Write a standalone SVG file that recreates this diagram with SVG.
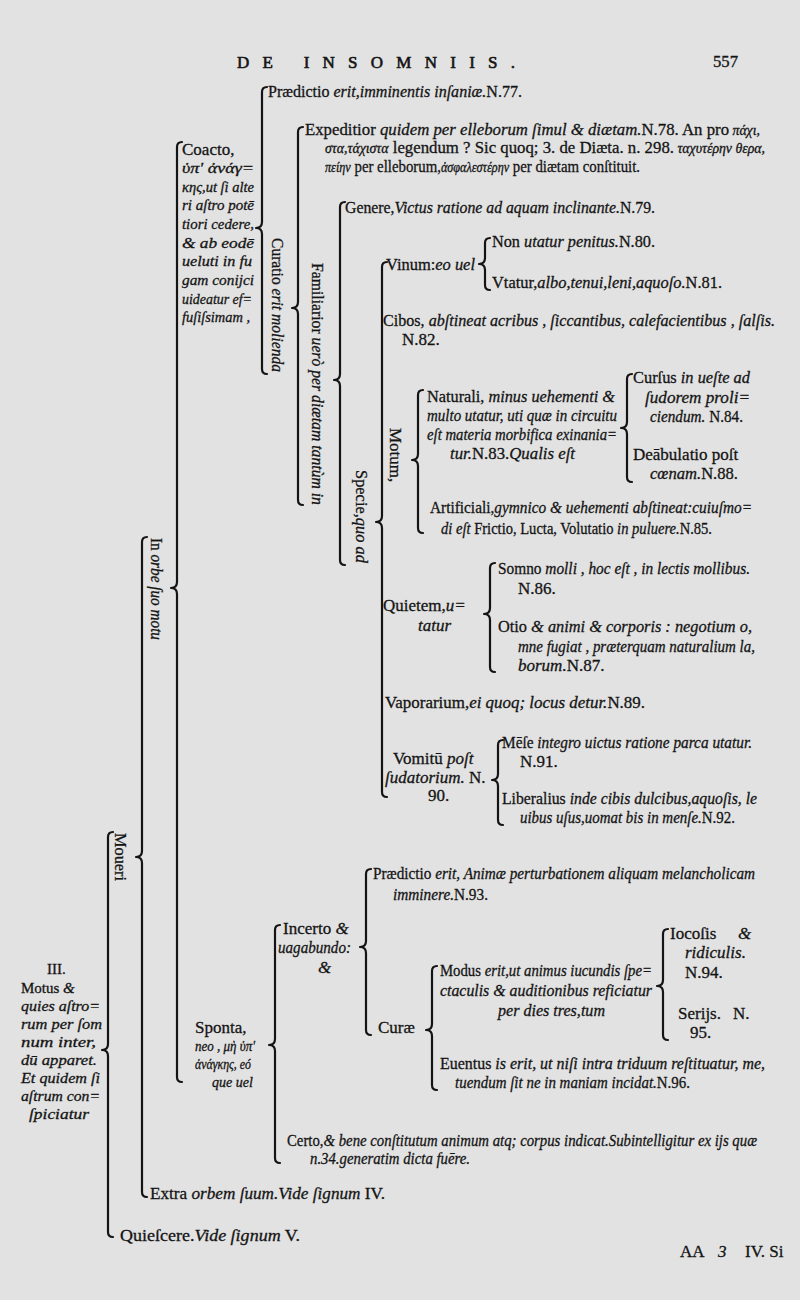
<svg xmlns="http://www.w3.org/2000/svg" width="800" height="1300" viewBox="0 0 800 1300">
<style>
text{font-family:"Liberation Serif","Times New Roman",serif;font-size:17px;fill:#141414;stroke:#141414;stroke-width:0.3px}
.i{font-style:italic}
.s{font-size:15px}
.g{font-size:14px}
.b{fill:none;stroke:#141414;stroke-width:2.2;stroke-linecap:round;stroke-linejoin:round}
</style>
<rect width="800" height="1300" fill="#e2e2e2"/>
<g id="header">
<text x="237" y="68" font-size="22" textLength="278" lengthAdjust="spacing" style="stroke-width:0.6px">DE INSOMNIIS.</text>
<text x="713" y="67" font-size="16" textLength="25" lengthAdjust="spacingAndGlyphs">557</text>
</g>
<g id="connectors">
<path class="b" d="M113,832 Q108,832 108,837 V1044 Q108,1050 102,1050 Q108,1050 108,1056 V1232 Q108,1237 113,1237"/>
<path class="b" d="M147,537 Q142,537 142,542 V851 Q142,857 136,857 Q142,857 142,863 V1192 Q142,1197 147,1197"/>
<path class="b" d="M182,142 Q177,142 177,147 V582 Q177,588 171,588 Q177,588 177,594 V1077 Q177,1082 182,1082"/>
<path class="b" d="M267,87 Q262,87 262,92 V222 Q262,228 256,228 Q262,228 262,234 V369 Q262,374 267,374"/>
<path class="b" d="M303,127 Q298,127 298,132 V302 Q298,308 292,308 Q298,308 298,314 V500 Q298,505 303,505"/>
<path class="b" d="M345,202 Q340,202 340,207 V374 Q340,380 334,380 Q340,380 340,386 V560 Q340,565 345,565"/>
<path class="b" d="M387,262 Q382,262 382,267 V516 Q382,522 376,522 Q382,522 382,528 V792 Q382,797 387,797"/>
<path class="b" d="M490,238 Q485,238 485,243 V258 Q485,264 479,264 Q485,264 485,270 V285 Q485,290 490,290"/>
<path class="b" d="M423,390 Q418,390 418,395 V454 Q418,460 412,460 Q418,460 418,466 V528 Q418,533 423,533"/>
<path class="b" d="M632,374 Q627,374 627,379 V422 Q627,428 621,428 Q627,428 627,434 V477 Q627,482 632,482"/>
<path class="b" d="M495,563 Q490,563 490,568 V608 Q490,614 484,614 Q490,614 490,620 V667 Q490,672 495,672"/>
<path class="b" d="M503,740 Q498,740 498,745 V774 Q498,780 492,780 Q498,780 498,786 V820 Q498,825 503,825"/>
<path class="b" d="M280,925 Q275,925 275,930 V1039 Q275,1045 269,1045 Q275,1045 275,1051 V1158 Q275,1163 280,1163"/>
<path class="b" d="M371,869 Q366,869 366,874 V941 Q366,947 360,947 Q366,947 366,953 V1030 Q366,1035 371,1035"/>
<path class="b" d="M437,966 Q432,966 432,971 V1024 Q432,1030 426,1030 Q432,1030 432,1036 V1085 Q432,1090 437,1090"/>
<path class="b" d="M668,929 Q663,929 663,934 V980 Q663,986 657,986 Q663,986 663,992 V1035 Q663,1040 668,1040"/>
</g>
<g id="n-iii">
<text x="47" y="974" class="s">III.</text>
<text x="21" y="993" class="s">Motus<tspan class="i"> &amp;</tspan></text>
<text x="21" y="1011" class="i s" textLength="79" lengthAdjust="spacingAndGlyphs">quies aſtro=</text>
<text x="21" y="1029" class="i s" textLength="81" lengthAdjust="spacingAndGlyphs">rum per ſom</text>
<text x="21" y="1047" class="i s" textLength="75" lengthAdjust="spacingAndGlyphs">num inter,</text>
<text x="21" y="1065" class="i s" textLength="76" lengthAdjust="spacingAndGlyphs">dū apparet.</text>
<text x="21" y="1083" class="i s" textLength="79" lengthAdjust="spacingAndGlyphs">Et quidem ſi</text>
<text x="21" y="1101" class="i s" textLength="79" lengthAdjust="spacingAndGlyphs">aſtrum con=</text>
<text x="29" y="1119" class="i s" textLength="60" lengthAdjust="spacingAndGlyphs">ſpiciatur</text>
</g>
<g id="n-moueri"><text transform="translate(115,833) rotate(90)" textLength="48" lengthAdjust="spacingAndGlyphs">Moueri</text></g>
<g id="n-quiescere"><text x="120" y="1241" textLength="180" lengthAdjust="spacingAndGlyphs">Quieſcere.<tspan class="i">Vide ſignum</tspan>  V.</text></g>
<g id="n-inorbe"><text transform="translate(151,538) rotate(90)" textLength="102" lengthAdjust="spacingAndGlyphs">In<tspan class="i"> orbe ſuo motu</tspan></text></g>
<g id="n-extra"><text x="150" y="1199" textLength="235" lengthAdjust="spacingAndGlyphs">Extra<tspan class="i"> orbem ſuum.Vide ſignum</tspan>  IV.</text></g>
<g id="n-coacto">
<text x="182" y="155">Coacto,</text>
<text x="182" y="173" class="i s" textLength="72" lengthAdjust="spacingAndGlyphs">ὑπ'  ἀνάγ=</text>
<text x="182" y="192" class="i s" textLength="72" lengthAdjust="spacingAndGlyphs">κης,ut ſi alte</text>
<text x="182" y="210" class="i s" textLength="72" lengthAdjust="spacingAndGlyphs">ri aſtro potē</text>
<text x="182" y="229" class="i s" textLength="72" lengthAdjust="spacingAndGlyphs">tiori cedere,</text>
<text x="182" y="248" class="i s" textLength="72" lengthAdjust="spacingAndGlyphs">&amp; ab eodē</text>
<text x="182" y="266" class="i s" textLength="70" lengthAdjust="spacingAndGlyphs">ueluti in fu</text>
<text x="182" y="285" class="i s" textLength="72" lengthAdjust="spacingAndGlyphs">gam conijci</text>
<text x="182" y="304" class="i s" textLength="70" lengthAdjust="spacingAndGlyphs">uideatur ef=</text>
<text x="182" y="322" class="i s" textLength="68" lengthAdjust="spacingAndGlyphs">fuſiſsimam ,</text>
</g>
<g id="n-praedictio1"><text x="268" y="97" textLength="254" lengthAdjust="spacingAndGlyphs">Prædictio<tspan class="i"> erit,imminentis inſaniæ.</tspan>N.77.</text></g>
<g id="n-curatio"><text transform="translate(272,238) rotate(90)" textLength="134" lengthAdjust="spacingAndGlyphs">Curatio<tspan class="i"> erit molienda</tspan></text></g>
<g id="n-expeditior">
<text x="305" y="135" textLength="455" lengthAdjust="spacingAndGlyphs">Expeditior<tspan class="i"> quidem per elleborum ſimul &amp; diætam.</tspan>N.78. An pro<tspan class="i g"> πάχι,</tspan></text>
<text x="325" y="153" textLength="440" lengthAdjust="spacingAndGlyphs"><tspan class="i g">στα,τάχιστα</tspan> legendum ? Sic quoq; 3. de Diæta. n. 298.<tspan class="i g"> ταχυτέρην θερα,</tspan></text>
<text x="325" y="172" textLength="315" lengthAdjust="spacingAndGlyphs"><tspan class="i g">πείην</tspan> per elleborum,<tspan class="i g">ἀσφαλεστέρην</tspan> per diætam conſtituit.</text>
</g>
<g id="n-familiarior"><text transform="translate(312,263) rotate(90)" textLength="242" lengthAdjust="spacingAndGlyphs">Familiarior<tspan class="i"> uerò per diætam tantùm in</tspan></text></g>
<g id="n-genere"><text x="345" y="213" textLength="310" lengthAdjust="spacingAndGlyphs">Genere,<tspan class="i">Victus ratione ad aquam inclinante.</tspan>N.79.</text></g>
<g id="n-specie"><text transform="translate(356,470) rotate(90)" textLength="93" lengthAdjust="spacingAndGlyphs">Specie,<tspan class="i">quo ad</tspan></text></g>
<g id="n-vinum"><text x="386" y="270" textLength="89" lengthAdjust="spacingAndGlyphs">Vinum:<tspan class="i">eo uel</tspan></text></g>
<g id="n-non"><text x="492" y="247" textLength="163" lengthAdjust="spacingAndGlyphs">Non<tspan class="i"> utatur penitus.</tspan>N.80.</text></g>
<g id="n-vtatur"><text x="492" y="288" textLength="230" lengthAdjust="spacingAndGlyphs">Vtatur,<tspan class="i">albo,tenui,leni,aquoſo.</tspan>N.81.</text></g>
<g id="n-cibos">
<text x="383" y="326" textLength="392" lengthAdjust="spacingAndGlyphs">Cibos,<tspan class="i"> abſtineat acribus , ſiccantibus, calefacientibus , ſalſis.</tspan></text>
<text x="402" y="345">N.82.</text>
</g>
<g id="n-motum"><text transform="translate(390,428) rotate(90)">Motum,</text></g>
<g id="n-naturali">
<text x="427" y="402" textLength="188" lengthAdjust="spacingAndGlyphs">Naturali,<tspan class="i"> minus uehementi &amp;</tspan></text>
<text x="427" y="421" class="i" textLength="190" lengthAdjust="spacingAndGlyphs">multo utatur, uti quæ in circuitu</text>
<text x="427" y="440" class="i" textLength="190" lengthAdjust="spacingAndGlyphs">eſt materia morbifica exinania=</text>
<text x="450" y="459" textLength="125" lengthAdjust="spacingAndGlyphs"><tspan class="i">tur.</tspan>N.83.<tspan class="i">Qualis eſt</tspan></text>
</g>
<g id="n-cursus">
<text x="633" y="383" textLength="117" lengthAdjust="spacingAndGlyphs">Curſus<tspan class="i"> in ueſte ad</tspan></text>
<text x="645" y="403" class="i" textLength="105" lengthAdjust="spacingAndGlyphs">ſudorem proli=</text>
<text x="650" y="422" textLength="93" lengthAdjust="spacingAndGlyphs"><tspan class="i">ciendum.</tspan> N.84.</text>
</g>
<g id="n-deambulatio">
<text x="633" y="460">Deābulatio poſt</text>
<text x="650" y="479" textLength="88" lengthAdjust="spacingAndGlyphs"><tspan class="i">cœnam.</tspan>N.88.</text>
</g>
<g id="n-artificiali">
<text x="430" y="513" textLength="322" lengthAdjust="spacingAndGlyphs">Artificiali,<tspan class="i">gymnico &amp; uehementi abſtineat:cuiuſmo=</tspan></text>
<text x="441" y="534" textLength="271" lengthAdjust="spacingAndGlyphs"><tspan class="i">di eſt</tspan> Frictio, Lucta, Volutatio<tspan class="i"> in puluere.</tspan>N.85.</text>
</g>
<g id="n-quietem">
<text x="383" y="611">Quietem,<tspan class="i">u=</tspan></text>
<text x="418" y="631" class="i">tatur</text>
</g>
<g id="n-somno">
<text x="498" y="574" textLength="252" lengthAdjust="spacingAndGlyphs">Somno<tspan class="i"> molli , hoc eſt , in lectis mollibus.</tspan></text>
<text x="518" y="594">N.86.</text>
</g>
<g id="n-otio">
<text x="498" y="632" textLength="254" lengthAdjust="spacingAndGlyphs">Otio<tspan class="i"> &amp; animi &amp; corporis : negotium o,</tspan></text>
<text x="518" y="652" class="i" textLength="237" lengthAdjust="spacingAndGlyphs">mne fugiat , præterquam naturalium la,</text>
<text x="518" y="671"><tspan class="i">borum.</tspan>N.87.</text>
</g>
<g id="n-vaporarium"><text x="385" y="708" textLength="260" lengthAdjust="spacingAndGlyphs">Vaporarium,<tspan class="i">ei quoq; locus detur.</tspan>N.89.</text></g>
<g id="n-vomitu">
<text x="393" y="764">Vomitū<tspan class="i"> poſt</tspan></text>
<text x="385" y="783"><tspan class="i">ſudatorium.</tspan> N.</text>
<text x="428" y="801">90.</text>
</g>
<g id="n-mese">
<text x="502" y="748" textLength="250" lengthAdjust="spacingAndGlyphs">Mēſe<tspan class="i"> integro uictus ratione parca utatur.</tspan></text>
<text x="520" y="767">N.91.</text>
</g>
<g id="n-liberalius">
<text x="502" y="804" textLength="255" lengthAdjust="spacingAndGlyphs">Liberalius<tspan class="i"> inde cibis dulcibus,aquoſis, le</tspan></text>
<text x="520" y="823" textLength="215" lengthAdjust="spacingAndGlyphs"><tspan class="i">uibus uſus,uomat bis in menſe.</tspan>N.92.</text>
</g>
<g id="n-sponta">
<text x="195" y="1033">Sponta,</text>
<text x="195" y="1051" class="i g" textLength="60" lengthAdjust="spacingAndGlyphs">neo , μὴ ὑπ'</text>
<text x="195" y="1069" class="i g" textLength="56" lengthAdjust="spacingAndGlyphs">ἀνάγκης, eó</text>
<text x="212" y="1087" class="i g">que uel</text>
</g>
<g id="n-incerto">
<text x="283" y="934">Incerto<tspan class="i"> &amp;</tspan></text>
<text x="278" y="953" class="i" textLength="73" lengthAdjust="spacingAndGlyphs">uagabundo:</text>
<text x="318" y="973" class="i">&amp;</text>
</g>
<g id="n-praedictio2">
<text x="373" y="879" textLength="382" lengthAdjust="spacingAndGlyphs">Prædictio<tspan class="i"> erit, Animæ perturbationem aliquam melancholicam</tspan></text>
<text x="393" y="900" textLength="95" lengthAdjust="spacingAndGlyphs"><tspan class="i">imminere.</tspan>N.93.</text>
</g>
<g id="n-curae"><text x="378" y="1033">Curæ</text></g>
<g id="n-modus">
<text x="440" y="976" textLength="212" lengthAdjust="spacingAndGlyphs">Modus<tspan class="i"> erit,ut animus iucundis ſpe=</tspan></text>
<text x="440" y="996" class="i" textLength="212" lengthAdjust="spacingAndGlyphs">ctaculis &amp; auditionibus reficiatur</text>
<text x="498" y="1016" class="i" textLength="107" lengthAdjust="spacingAndGlyphs">per dies tres,tum</text>
</g>
<g id="n-iocosis">
<text x="670" y="939">Iocoſis<tspan class="i" x="738">&amp;</tspan></text>
<text x="685" y="958" class="i">ridiculis.</text>
<text x="685" y="978">N.94.</text>
</g>
<g id="n-serijs">
<text x="678" y="1019">Serijs.<tspan x="733">N.</tspan></text>
<text x="690" y="1038">95.</text>
</g>
<g id="n-euentus">
<text x="440" y="1069" textLength="325" lengthAdjust="spacingAndGlyphs">Euentus<tspan class="i"> is erit, ut niſi intra triduum reſtituatur, me,</tspan></text>
<text x="455" y="1088" textLength="235" lengthAdjust="spacingAndGlyphs"><tspan class="i">tuendum ſit ne in maniam incidat.</tspan>N.96.</text>
</g>
<g id="n-certo">
<text x="287" y="1146" textLength="470" lengthAdjust="spacingAndGlyphs">Certo,<tspan class="i">&amp; bene conſtitutum animum atq; corpus indicat.Subintelligitur ex ijs quæ</tspan></text>
<text x="310" y="1164" class="i" textLength="160" lengthAdjust="spacingAndGlyphs">n.34.generatim dicta fuēre.</text>
</g>
<g id="footer">
<text x="680" y="1257" font-size="16">AA</text>
<text x="718" y="1257" font-size="16" class="i">3</text>
<text x="745" y="1257" font-size="16">IV. Si</text>
</g>
</svg>
